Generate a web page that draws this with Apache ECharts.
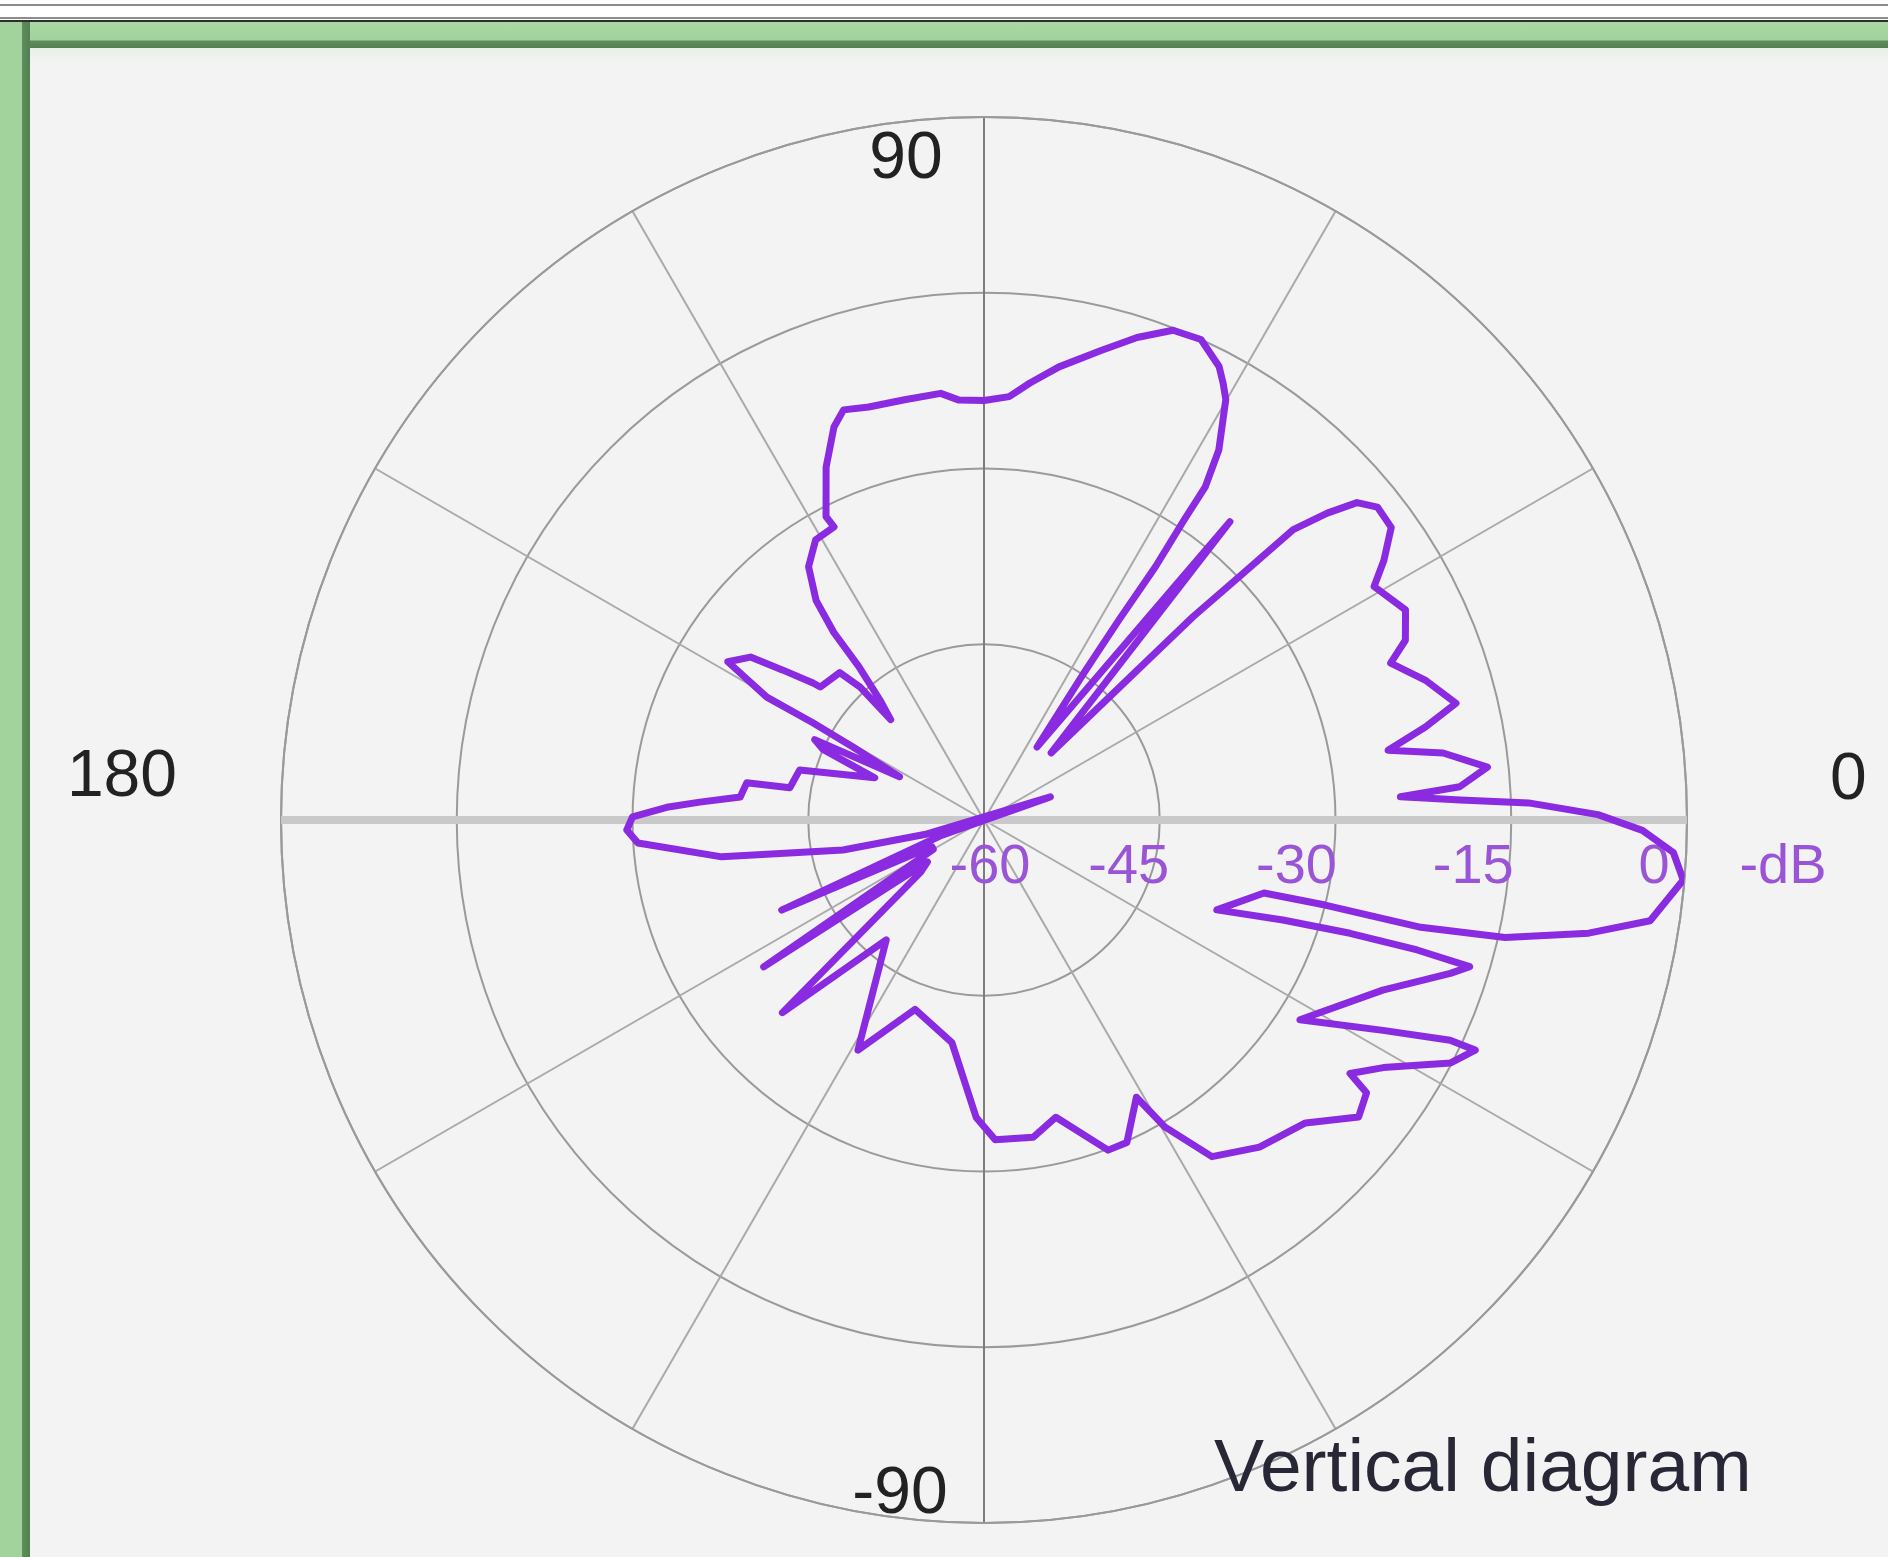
<!DOCTYPE html>
<html>
<head>
<meta charset="utf-8">
<title>Vertical diagram</title>
<script src="https://cdn.jsdelivr.net/npm/echarts@6.0.0/dist/echarts.min.js"></script>
<style>
  html, body { margin: 0; padding: 0; background: #ffffff; }
  body { width: 1888px; height: 1557px; position: relative; overflow: hidden; }
  .abs { position: absolute; }
  #rule1 { left: 0; top: 4px; width: 1888px; height: 2px; background: #8c8c8c; }
  #rule2 { left: 0; top: 17px; width: 1888px; height: 2px; background: #8c8c8c; }
  #frame { left: 0; top: 20px; width: 1888px; height: 1537px; background: #f3f3f3; border-top: 2px solid #2e2e2e; }
  #bandTop { left: 0; top: 22px; width: 1888px; height: 26px;
    background: linear-gradient(to bottom, #a9d8a3 0px, #a4d29e 18px, #5f8c5d 19px, #557f53 26px); }
  #glowTop { left: 30px; top: 48px; width: 1858px; height: 16px;
    background: linear-gradient(to bottom, #e6f1e6, #f3f3f3); }
  #bandLeft { left: 0; top: 22px; width: 30px; height: 1535px;
    background: linear-gradient(to right, #a2d39d 0px, #a2d39d 22px, #5f8c5d 22px, #557f53 30px); }
  #chart { left: 0; top: 0; width: 1888px; height: 1557px; }
</style>
</head>
<body>
<div id="rule1" class="abs"></div>
<div id="rule2" class="abs"></div>
<div id="frame" class="abs"></div>
<div id="bandTop" class="abs"></div>
<div id="glowTop" class="abs"></div>
<div id="bandLeft" class="abs"></div>
<div id="chart" class="abs"></div>
<script>
// radius scale (dB) and angle labels
const radiusMin = -60;
const radiusMax = 0;
const radiusStep = 15;
const radiusUnit = '-dB';
const angleTickValues = [0, 90, 180, 270];
const angleTickLabels = ['0', '90', '180', '-90'];
const chartTitle = 'Vertical diagram';

// measured pattern, in drawing order (angle in degrees, gain in dB)
const angles = [355.1, 357.3, 359.1, 0.5, 1.8, 2.4, 3.2, 4.0, 6.0, 8.3, 9.8, 11.9, 13.9, 17.6, 21.1, 23.1, 26.5, 30.9, 33.0, 35.7,
  38.5, 40.4, 41.8, 43.2, 43.6, 44.2, 45.0, 50.5, 54.0, 55.8, 56.0, 55.9, 56.3, 56.4, 57.6, 60.1, 61.3, 62.6, 65.7, 68.9,
  72.4, 76.0, 80.6, 84.0, 86.6, 90.0, 93.4, 95.8, 100.7, 105.6, 108.9, 110.9, 114.1, 117.5, 117.1, 121.0, 124.7, 127.4, 128.7, 129.2,
  130.9, 132.9, 133.0, 134.4, 140.9, 141.3, 143.3, 145.1, 148.3, 150.5, 150.4, 150.9, 152.9, 154.6, 156.3, 158.9, 164.8, 170.6, 171.1, 174.6, 176.4,
  177.7, 179.5, 181.6, 183.8, 188.0, 192.0, 193.8, 19.2, 200.0, 204.0, 207.0, 210.0, 213.7, 216.5, 219.5, 223.7, 230.8, 241.3, 250.0, 261.8,
  268.5, 272.0, 278.8, 283.6, 290.6, 293.9, 298.8, 300.5, 304.1, 310.1, 316.7, 321.6, 324.5, 325.3, 328.2, 332.5, 334.9, 334.7, 332.2, 327.7,
  336.9, 341.8, 343.2, 343.3, 342.8, 341.5, 338.9, 345.4, 346.0, 346.2, 347.3, 349.4, 351.4, 355.1];
const gains = [-0.1, -1.1, -3.8, -7.6, -13.5, -19.3, -24.4, -19.3, -16.8, -20.4, -25.0, -21.5, -18.5, -20.5, -22.8, -20.9, -19.8, -21.2, -19.3, -17.2,
  -17.1, -18.2, -20.7, -23.8, -29.5, -35.1, -51.9, -27.0, -52.3, -44.8, -39.4, -33.9, -29.2, -25.9, -22.6, -18.6, -17.5, -16.4, -15.0, -15.2,
  -16.8, -18.7, -20.8, -22.5, -23.8, -24.2, -24.1, -23.4, -23.5, -23.4, -23.0, -24.1, -27.0, -30.8, -31.9, -32.1, -33.7, -36.4, -39.5, -43.1,
  -46.4, -48.3, -44.5, -42.4, -42.0, -41.3, -38.6, -35.7, -34.3, -38.7, -43.2, -47.2, -51.9, -44.0, -45.0, -50.0, -43.7, -43.2, -39.5, -39.1, -35.7,
  -32.9, -30.0, -29.5, -30.4, -37.4, -47.7, -55.0, -54.0, -56.0, -41.1, -55.0, -55.0, -37.4, -54.0, -53.0, -36.2, -46.8, -37.6, -42.8, -40.8,
  -34.6, -32.7, -32.6, -33.9, -29.9, -29.9, -33.0, -29.6, -25.3, -23.5, -22.3, -19.2, -19.9, -22.0, -19.9, -15.1, -13.7, -16.0, -21.5, -28.1,
  -23.0, -18.1, -16.7, -21.4, -27.3, -33.1, -38.7, -35.3, -30.0, -21.6, -14.4, -7.5, -2.5, -0.1];

const labelFont = 'Liberation Sans, Arial, sans-serif';
const pattern = gains.map((g, i) => [g, angles[i]]);

const chart = echarts.init(document.getElementById('chart'), null, { renderer: 'canvas' });

const option = {
  backgroundColor: 'transparent',
  animation: false,
  title: {
    text: chartTitle,
    left: 1214,
    top: 1433,
    padding: 0,
    textStyle: { fontFamily: labelFont, fontSize: 75, fontWeight: 'normal', color: '#272735', lineHeight: 75 }
  },
  polar: { center: [984, 820], radius: 703 },
  angleAxis: {
    type: 'value',
    min: 0,
    max: 360,
    interval: 30,
    startAngle: 0,
    clockwise: false,
    axisLine: { show: true, lineStyle: { color: '#9a9a9a', width: 2 } },
    axisTick: { show: false },
    splitLine: {
      show: true,
      lineStyle: {
        color: ['#a9a9a9', '#a9a9a9', '#a9a9a9', '#7c7c7c', '#a9a9a9', '#a9a9a9',
                '#a9a9a9', '#a9a9a9', '#a9a9a9', '#7c7c7c', '#a9a9a9', '#a9a9a9'],
        width: 2
      }
    },
    axisLabel: {
      margin: -80,
      color: '#222222',
      fontFamily: labelFont,
      fontSize: 66,
      formatter: v => {
        const i = angleTickValues.indexOf(v);
        return i < 0 ? '' : '{a' + v + '|' + angleTickLabels[i] + '}';
      },
      rich: {
        a0: { fontSize: 66, lineHeight: 66, fontFamily: labelFont, color: '#222', padding: [0, 0, 78, 223] },
        a90: { fontSize: 66, lineHeight: 66, fontFamily: labelFont, color: '#222', padding: [0, 156, 9, 0] },
        a180: { fontSize: 66, lineHeight: 66, fontFamily: labelFont, color: '#222', padding: [0, 184, 84, 0] },
        a270: { fontSize: 66, lineHeight: 66, fontFamily: labelFont, color: '#222', padding: [37, 168, 0, 0] }
      }
    }
  },
  radiusAxis: {
    type: 'value',
    min: radiusMin,
    max: radiusMax,
    interval: radiusStep,
    name: radiusUnit,
    nameLocation: 'end',
    nameGap: 33,
    nameTextStyle: {
      color: '#9a55d6', fontFamily: labelFont, fontSize: 56, lineHeight: 56,
      align: 'left', verticalAlign: 'top', padding: [20, 0, 0, 0]
    },
    axisLine: { show: false },
    axisTick: { show: false },
    splitLine: { show: true, lineStyle: { color: '#9a9a9a', width: 2 } },
    axisLabel: {
      margin: -76,
      color: '#9a55d6',
      fontFamily: labelFont,
      fontSize: 56,
      formatter: v => '{r' + Math.abs(v) + '|' + v + '}',
      rich: {
        r60: { fontSize: 56, lineHeight: 56, fontFamily: labelFont, color: '#9a55d6', padding: [0, 0, 0, 12] },
        r45: { fontSize: 56, lineHeight: 56, fontFamily: labelFont, color: '#9a55d6', padding: [0, 62, 0, 0] },
        r30: { fontSize: 56, lineHeight: 56, fontFamily: labelFont, color: '#9a55d6', padding: [0, 78, 0, 0] },
        r15: { fontSize: 56, lineHeight: 56, fontFamily: labelFont, color: '#9a55d6', padding: [0, 76, 0, 0] },
        r0: { fontSize: 56, lineHeight: 56, fontFamily: labelFont, color: '#9a55d6', padding: [0, 66, 0, 0] }
      }
    }
  },
  series: [
    {
      name: 'axis',
      type: 'line',
      coordinateSystem: 'polar',
      silent: true,
      symbol: 'none',
      z: 1,
      lineStyle: { color: '#c9c9c9', width: 8 },
      data: [[radiusMax, 0], [radiusMax, 180]]
    },
    {
      name: 'pattern',
      type: 'line',
      coordinateSystem: 'polar',
      symbol: 'none',
      smooth: false,
      z: 3,
      lineStyle: { color: '#8a2be2', width: 7, join: 'round', cap: 'round' },
      data: pattern
    }
  ]
};

chart.setOption(option);
</script>
</body>
</html>
